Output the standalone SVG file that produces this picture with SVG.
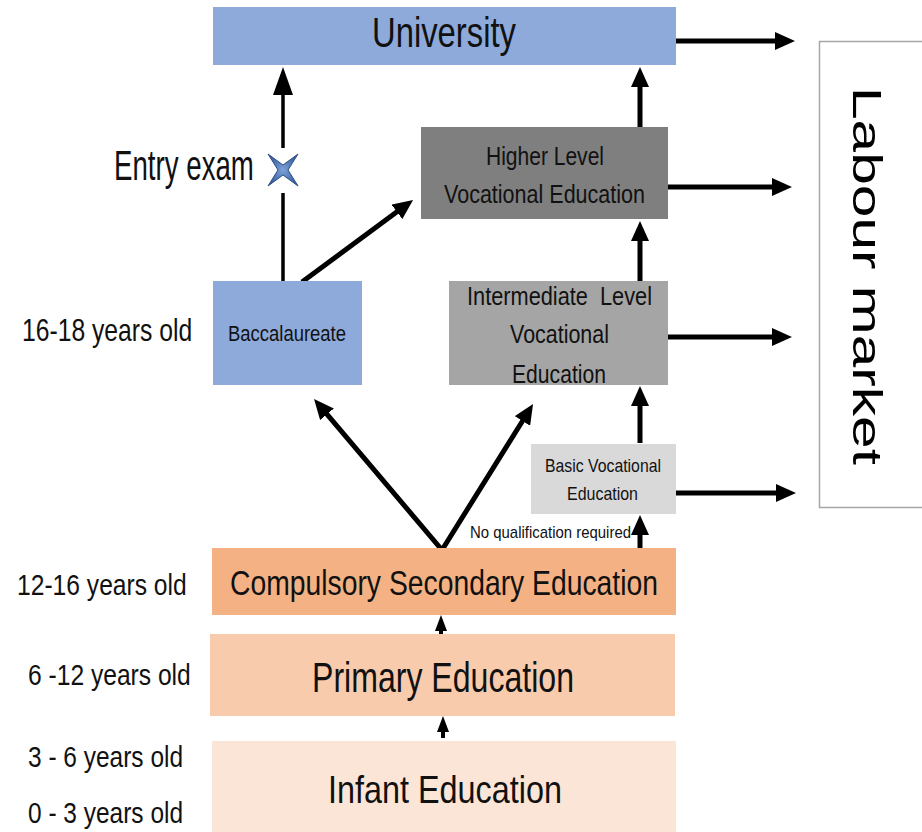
<svg xmlns="http://www.w3.org/2000/svg" width="922" height="832" viewBox="0 0 922 832">
<style>
text{font-family:"Liberation Sans",Arial,sans-serif;fill:#111;}
.ln{stroke:#000;fill:none;stroke-width:5;}
.thin{stroke:#000;fill:none;stroke-width:3.5;}
.sm{stroke:#000;fill:none;stroke-width:4;}
</style>
<defs>
<marker id="ah" viewBox="0 0 20 18" refX="8" refY="9" markerWidth="20" markerHeight="18" markerUnits="userSpaceOnUse" orient="auto-start-reverse">
<path d="M0,0 L20,9 L0,18 z" fill="#000"/>
</marker>
<marker id="ahl" viewBox="0 0 28 20" refX="8" refY="10" markerWidth="28" markerHeight="20" markerUnits="userSpaceOnUse" orient="auto">
<path d="M0,0 L28,10 L0,20 z" fill="#000"/>
</marker>
<marker id="ahs" viewBox="0 0 16 12" refX="6" refY="6" markerWidth="16" markerHeight="12" markerUnits="userSpaceOnUse" orient="auto">
<path d="M0,0 L16,6 L0,12 z" fill="#000"/>
</marker>
<radialGradient id="starg" cx="0.5" cy="0.5" r="0.5">
<stop offset="0" stop-color="#7ea3d8"/>
<stop offset="1" stop-color="#3c63a6"/>
</radialGradient>
</defs>

<g id="connectors">
<line class="ln" x1="676" y1="41" x2="783" y2="41" marker-end="url(#ah)"/>
<line class="ln" x1="668" y1="187" x2="780" y2="187" marker-end="url(#ah)"/>
<line class="ln" x1="668" y1="337" x2="780" y2="337" marker-end="url(#ah)"/>
<line class="ln" x1="676" y1="493" x2="784" y2="493" marker-end="url(#ah)"/>
<line class="ln" x1="640" y1="127" x2="640" y2="79" marker-end="url(#ah)"/>
<line class="ln" x1="640" y1="281" x2="640" y2="233" marker-end="url(#ah)"/>
<line class="ln" x1="640" y1="443" x2="640" y2="398" marker-end="url(#ah)"/>
<line class="ln" x1="640" y1="563" x2="640" y2="527" marker-end="url(#ah)"/>
<line class="ln" x1="302" y1="282" x2="403.4" y2="207.1" marker-end="url(#ah)"/>
<polyline class="ln" points="321.8,408.2 442,550 526.7,414.2" stroke-linejoin="miter" marker-start="url(#ah)" marker-end="url(#ah)"/>
<line class="thin" x1="283" y1="281" x2="283" y2="193"/>
<line class="thin" x1="283" y1="148" x2="283" y2="87" marker-end="url(#ahl)"/>
<line class="sm" x1="441" y1="640" x2="441" y2="625" marker-end="url(#ahs)"/>
<line class="sm" x1="443" y1="738" x2="443" y2="726" marker-end="url(#ahs)"/>
</g>

<g id="university">
<rect x="213" y="7" width="463" height="58" fill="#8eaadb"/>
<text x="372" y="47" font-size="42" textLength="144" lengthAdjust="spacingAndGlyphs">University</text>
</g>

<g id="entry-exam">
<text transform="translate(114,180) scale(0.66,1)" font-size="42" textLength="212" lengthAdjust="spacingAndGlyphs">Entry exam</text>
<polygon points="268,154 283,165 298,154 288,170 298,186 283,175 268,186 278,170" fill="url(#starg)" stroke="#2d4d80" stroke-width="1"/>
</g>

<g id="higher-vocational">
<rect x="421" y="127" width="247" height="92" fill="#7f7f7f"/>
<text x="486" y="165" font-size="26" textLength="118" lengthAdjust="spacingAndGlyphs">Higher Level</text>
<text x="444" y="203" font-size="26" textLength="201" lengthAdjust="spacingAndGlyphs">Vocational Education</text>
</g>

<g id="baccalaureate">
<rect x="213" y="281" width="149" height="104" fill="#8eaadb"/>
<text x="228" y="341" font-size="22" textLength="118" lengthAdjust="spacingAndGlyphs">Baccalaureate</text>
</g>

<g id="intermediate-vocational">
<rect x="449" y="281" width="219" height="104" fill="#a5a5a5"/>
<text x="467" y="305" font-size="26" textLength="185" lengthAdjust="spacingAndGlyphs" xml:space="preserve">Intermediate  Level</text>
<text x="510" y="343" font-size="26" textLength="99" lengthAdjust="spacingAndGlyphs">Vocational</text>
<text x="512" y="383" font-size="26" textLength="94" lengthAdjust="spacingAndGlyphs">Education</text>
</g>

<g id="basic-vocational">
<rect x="531" y="444" width="145" height="70" fill="#d9d9d9"/>
<text x="545" y="472" font-size="19" textLength="116" lengthAdjust="spacingAndGlyphs">Basic Vocational</text>
<text x="567" y="500" font-size="19" textLength="71" lengthAdjust="spacingAndGlyphs">Education</text>
</g>

<g id="no-qualification">
<text x="470" y="538" font-size="17" textLength="161" lengthAdjust="spacingAndGlyphs">No qualification required</text>
</g>

<g id="compulsory-secondary">
<rect x="212" y="548" width="464" height="67" fill="#f4b183"/>
<text x="230" y="595" font-size="35" textLength="428" lengthAdjust="spacingAndGlyphs">Compulsory Secondary Education</text>
</g>

<g id="primary">
<rect x="210" y="634" width="465" height="82" fill="#f8cbad"/>
<text x="312" y="692" font-size="42" textLength="262" lengthAdjust="spacingAndGlyphs">Primary Education</text>
</g>

<g id="infant">
<rect x="212" y="741" width="464" height="91" fill="#fbe5d6"/>
<text x="328" y="803" font-size="39" textLength="234" lengthAdjust="spacingAndGlyphs">Infant Education</text>
</g>

<g id="ages">
<text transform="translate(22,341) scale(0.77,1)" font-size="32" textLength="221" lengthAdjust="spacingAndGlyphs">16-18 years old</text>
<text transform="translate(17,595) scale(0.82,1)" font-size="30" textLength="207" lengthAdjust="spacingAndGlyphs">12-16 years old</text>
<text transform="translate(28,685) scale(0.79,1)" font-size="30" textLength="206" lengthAdjust="spacingAndGlyphs">6 -12 years old</text>
<text transform="translate(28,767) scale(0.76,1)" font-size="30" textLength="204" lengthAdjust="spacingAndGlyphs">3 - 6 years old</text>
<text transform="translate(28,823) scale(0.76,1)" font-size="30" textLength="204" lengthAdjust="spacingAndGlyphs">0 - 3 years old</text>
</g>

<g id="labour-market">
<rect x="819.5" y="41.5" width="140" height="466" fill="#fff" stroke="#a6a6a6" stroke-width="1.5"/>
<text transform="translate(853,87) rotate(90)" x="0" y="0" font-size="41" textLength="378" lengthAdjust="spacingAndGlyphs" style="fill:#000">Labour market</text>
</g>
</svg>
